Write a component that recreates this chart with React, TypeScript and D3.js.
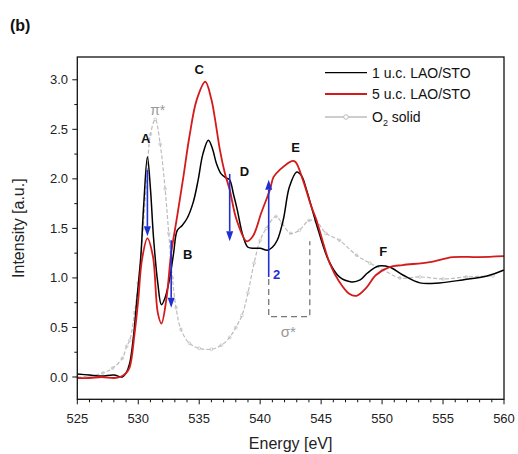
import React from "react";
import * as d3 from "d3";

// ---- data ----
const energyLAO1 = [525, 526, 527, 528, 528.7, 529.0, 529.3, 529.6, 529.9, 530.2, 530.45, 530.75, 531.0, 531.25, 531.6, 531.9, 532.2, 532.6, 532.9, 533.2, 533.6, 534.0, 534.5, 534.9, 535.3, 535.75, 536.1, 536.4, 536.8, 537.2, 537.5, 537.8, 538.1, 538.6, 539.0, 539.5, 540.0, 540.6, 541.0, 541.4, 541.9, 542.4, 543.0, 543.4, 543.8, 544.6, 545.6, 546.5, 547.5, 548.2, 548.8, 549.7, 550.6, 551.7, 553.1, 554.7, 556.6, 558.6, 560];
const valueLAO1 = [0.03, 0.02, 0.01, 0.02, 0.0, 0.04, 0.14, 0.40, 0.80, 1.20, 1.74, 2.22, 1.90, 1.41, 0.95, 0.73, 0.80, 1.01, 1.25, 1.48, 1.53, 1.60, 1.76, 1.98, 2.25, 2.39, 2.30, 2.16, 2.05, 2.01, 1.99, 1.85, 1.70, 1.42, 1.31, 1.30, 1.30, 1.28, 1.31, 1.38, 1.59, 1.92, 2.07, 2.03, 1.89, 1.55, 1.18, 1.01, 0.96, 0.98, 1.05, 1.12, 1.11, 1.03, 0.95, 0.95, 0.98, 1.02, 1.08];

const energyLAO5 = [525, 526, 527, 528, 528.5, 529.0, 529.3, 529.7, 530.0, 530.3, 530.75, 531.2, 531.6, 531.9, 532.3, 532.7, 533.15, 533.7, 534.2, 534.8, 535.5, 536.0, 536.3, 536.7, 537.1, 537.5, 538.06, 538.9, 539.4, 540.1, 540.8, 541.1, 541.6, 542.6, 542.9, 543.5, 544.2, 544.6, 545.7, 546.5, 547.3, 547.9, 548.7, 549.5, 550.6, 551.7, 553.9, 555.8, 557.9, 560];
const valueLAO5 = [-0.01, -0.01, 0.0, -0.01, 0.0, 0.04, 0.10, 0.44, 0.78, 1.18, 1.40, 1.22, 0.65, 0.54, 0.78, 1.25, 1.59, 2.02, 2.43, 2.80, 2.98, 2.80, 2.60, 2.29, 2.06, 1.89, 1.59, 1.37, 1.42, 1.66, 1.89, 2.02, 2.09, 2.18, 2.17, 1.99, 1.72, 1.59, 1.15, 0.96, 0.84, 0.82, 0.90, 1.03, 1.11, 1.13, 1.16, 1.21, 1.21, 1.22];

const energyO2 = [525, 526, 527.1, 527.9, 528.7, 529.05, 529.3, 529.7, 530.0, 530.4, 530.7, 531.0, 531.4, 531.8, 532.2, 532.5, 532.8, 533.1, 533.5, 534.2, 535.0, 536.0, 536.8, 537.5, 538.0, 538.5, 539.0, 539.5, 540.0, 540.5, 541.3, 541.8, 542.5, 543.2, 544.0, 544.6, 545.4, 546.5, 547.9, 549.0, 550.1, 551.45, 553.1, 555.0, 556.9, 559.1];
const valueO2 = [0.0, 0.01, 0.04, 0.09, 0.19, 0.31, 0.37, 0.65, 0.95, 1.50, 2.0, 2.45, 2.60, 2.35, 1.90, 1.45, 1.00, 0.70, 0.48, 0.34, 0.29, 0.28, 0.32, 0.40, 0.50, 0.62, 0.85, 1.15, 1.38, 1.50, 1.62, 1.55, 1.45, 1.48, 1.58, 1.57, 1.45, 1.38, 1.23, 1.15, 1.08, 1.00, 1.01, 0.99, 1.01, 1.02];

const xTicks = [525, 530, 535, 540, 545, 550, 555, 560];
const yTicks = [0.0, 0.5, 1.0, 1.5, 2.0, 2.5, 3.0];

const seriesNames = ["1 u.c. LAO/STO", "5 u.c. LAO/STO", "O2 solid"];

const peakLabels = [
  { t: "A", e: 530.6, v: 2.36 },
  { t: "B", e: 534.05, v: 1.19 },
  { t: "C", e: 535.0, v: 3.06 },
  { t: "D", e: 538.7, v: 2.03 },
  { t: "E", e: 542.9, v: 2.27 },
  { t: "F", e: 550.1, v: 1.22 },
];

// arrows: [energy, from, to]
const arrows = [
  [530.75, 2.09, 1.42],
  [532.7, 1.38, 0.70],
  [537.5, 2.05, 1.37],
  [540.7, 1.01, 1.99],
];

const sigmaBox = { e0: 540.7, e1: 544.07, top: 1.37, bottom: 0.61, leftTop: 0.99 };

const W = 518;
const H = 454;

export default function App() {
  const x = d3.scaleLinear().domain([525, 560]).range([77.3, 504]);
  const y = d3.scaleLinear().domain([-0.225, 3.23]).range([399.3, 57]);
  const line = (es: number[], vs: number[]) =>
    d3
      .line<number>()
      .x((_, i) => x(es[i]))
      .y((v) => y(v))
      .curve(d3.curveCatmullRom.alpha(0.5))(vs) || "";

  const x0 = x.range()[0], x1 = x.range()[1];
  const yTop = y.range()[1], yBot = y.range()[0];
  const xMinor = d3.range(525, 561, 1);
  const yMinor = d3.range(0, 3.01, 0.25);
  const font = "Liberation Sans, Arial, sans-serif";
  const gray = "#bdbdbd";
  const blue = "#1f2fd0";

  return (
    <svg width={W} height={H} style={{ display: "block", position: "absolute", left: 0, top: 0 }} fontFamily={font}>
      <rect width={W} height={H} fill="#fff" />
      <text x={10} y={31} fontSize={16} fontWeight="bold" fill="#111">(b)</text>

      {/* curves */}
      <path d={line(energyO2, valueO2)} fill="none" stroke={gray} strokeWidth={1.2} strokeDasharray="4 2" />
      {energyO2.map((e, i) => (
        <circle key={i} cx={x(e)} cy={y(valueO2[i])} r={1.4} fill="none" stroke={gray} strokeWidth={0.7} />
      ))}
      <path d={line(energyLAO1, valueLAO1)} fill="none" stroke="#000" strokeWidth={1.5} />
      <path d={line(energyLAO5, valueLAO5)} fill="none" stroke="#d41a1a" strokeWidth={1.8} />

      {/* sigma box */}
      <path
        d={`M${x(sigmaBox.e0)},${y(sigmaBox.leftTop)} V${y(sigmaBox.bottom)} H${x(sigmaBox.e1)} V${y(sigmaBox.top)}`}
        fill="none"
        stroke="#777"
        strokeWidth={1.3}
        strokeDasharray="6 4"
      />

      {/* arrows */}
      {arrows.map(([e, a, b], i) => {
        const px = x(e), ya = y(a), yb = y(b);
        const dir = yb > ya ? 1 : -1;
        const hl = 10, hw = 3.5;
        return (
          <g key={i}>
            <line x1={px} y1={ya} x2={px} y2={yb - dir * hl} stroke={blue} strokeWidth={1.6} />
            <polygon points={`${px},${yb} ${px - hw},${yb - dir * hl} ${px + hw},${yb - dir * hl}`} fill={blue} />
          </g>
        );
      })}

      {/* annotations */}
      {peakLabels.map((p) => (
        <text key={p.t} x={x(p.e)} y={y(p.v)} fontSize={13} fontWeight="bold" textAnchor="middle" fill="#111">{p.t}</text>
      ))}
      <text x={x(531.6)} y={y(2.64)} fontSize={14} textAnchor="middle" fill="#999">π*</text>
      <text x={x(542.3)} y={y(0.40)} fontSize={15} textAnchor="middle" fill="#999">σ*</text>
      <text x={x(541.35)} y={y(0.99)} fontSize={13} fontWeight="bold" textAnchor="middle" fill={blue}>2</text>

      {/* frame */}
      <rect x={x0} y={yTop} width={x1 - x0} height={yBot - yTop} fill="none" stroke="#111" strokeWidth={1.3} />

      {/* x ticks */}
      {xMinor.map((t) => (
        <line key={t} x1={x(t)} x2={x(t)} y1={yBot} y2={yBot + (t % 5 === 0 ? 5 : 3)} stroke="#111" strokeWidth={1} />
      ))}
      {xTicks.map((t) => (
        <text key={t} x={x(t)} y={423} fontSize={13} textAnchor="middle" fill="#222">{t}</text>
      ))}
      {/* y ticks */}
      {yMinor.map((t) => (
        <line key={t} x1={x0} x2={x0 - (Math.abs(t * 2 - Math.round(t * 2)) < 1e-6 ? 5 : 3)} y1={y(t)} y2={y(t)} stroke="#111" strokeWidth={1} />
      ))}
      {yTicks.map((t) => (
        <text key={t} x={68} y={y(t)} dy="0.35em" fontSize={13} textAnchor="end" fill="#222">{t.toFixed(1)}</text>
      ))}

      <text x={(x0 + x1) / 2} y={449} fontSize={16} textAnchor="middle" fill="#222">Energy [eV]</text>
      <text transform={`translate(24,${(yTop + yBot) / 2}) rotate(-90)`} fontSize={16} textAnchor="middle" fill="#222">Intensity [a.u.]</text>

      {/* legend */}
      <g>
        <line x1={325} x2={367} y1={72.7} y2={72.7} stroke="#000" strokeWidth={1.3} />
        <text x={372} y={72.7} dy="0.35em" fontSize={14} fill="#111">{seriesNames[0]}</text>
        <line x1={325} x2={367} y1={94} y2={94} stroke="#d41a1a" strokeWidth={1.8} />
        <text x={372} y={94} dy="0.35em" fontSize={14} fill="#111">{seriesNames[1]}</text>
        <line x1={325} x2={367} y1={117} y2={117} stroke={gray} strokeWidth={1.3} />
        <circle cx={346} cy={117} r={2.3} fill="#fff" stroke={gray} strokeWidth={1} />
        <text x={372} y={117} dy="0.35em" fontSize={14} fill="#111">
          O<tspan fontSize={9} dy="4">2</tspan><tspan dy="-4"> solid</tspan>
        </text>
      </g>
    </svg>
  );
}
